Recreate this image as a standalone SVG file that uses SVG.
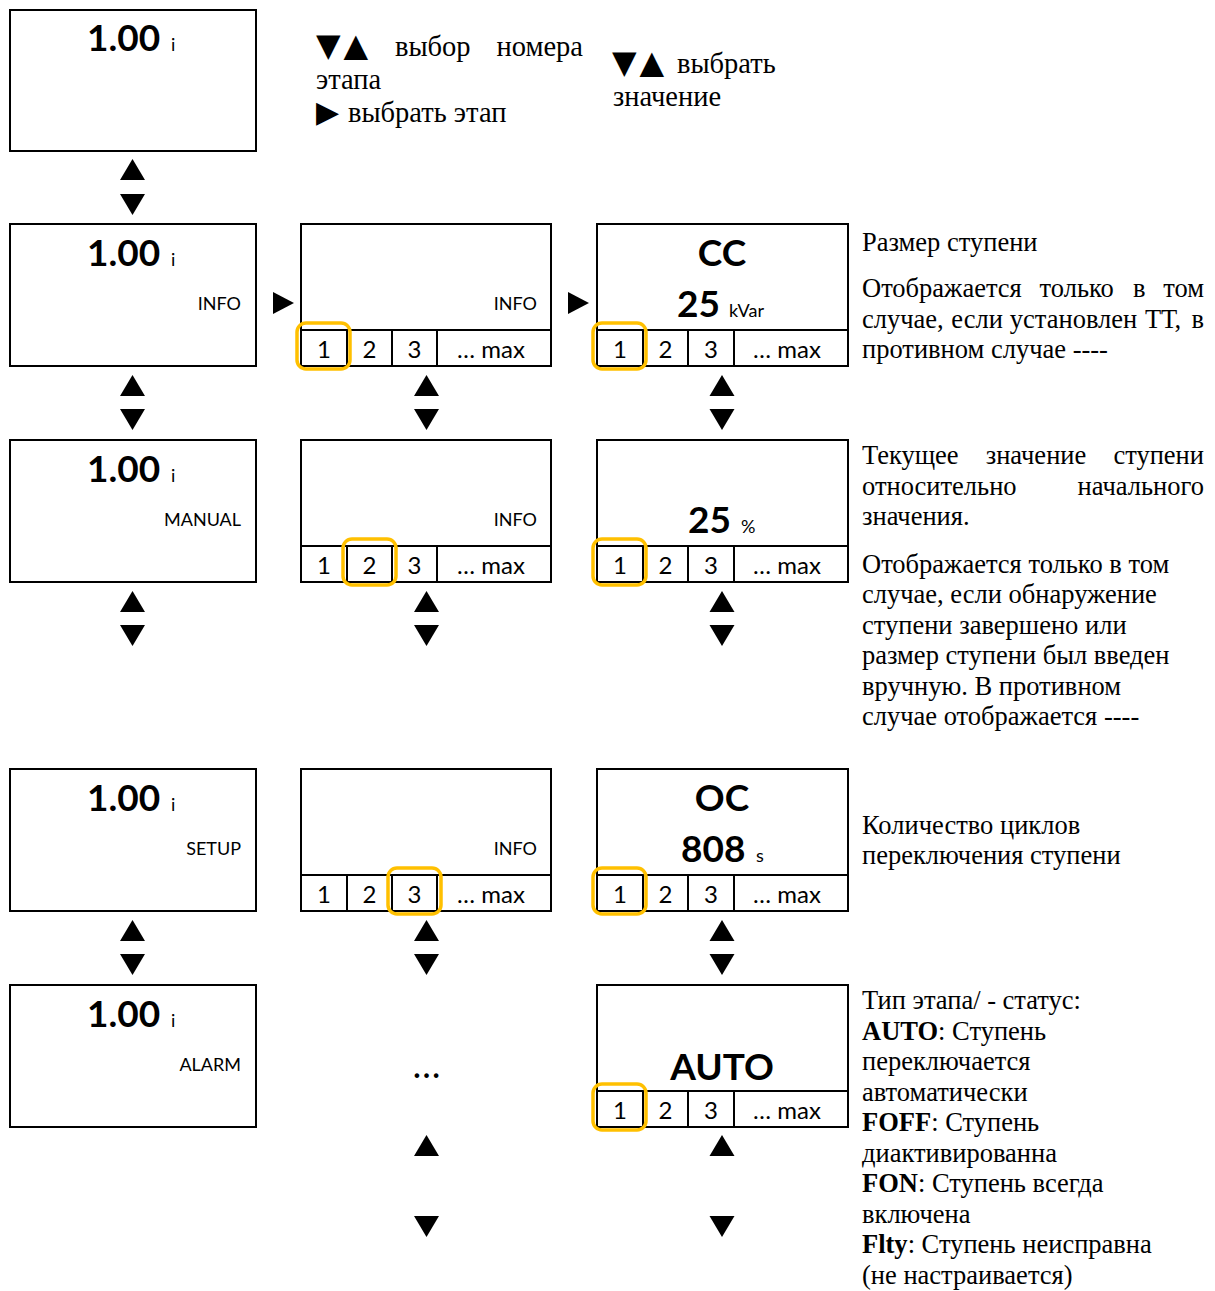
<svg xmlns="http://www.w3.org/2000/svg" xmlns:xlink="http://www.w3.org/1999/xlink" width="1215" height="1291" viewBox="0 0 1215 1291">
<style>
.box{fill:#fff;stroke:#000;stroke-width:2}
.dv{stroke:#000;stroke-width:2;fill:none}
.hl{fill:none;stroke:#FFC000;stroke-width:3.5}
.big{font-family:Lato,"Open Sans",sans-serif;font-weight:700;font-size:37px;fill:#000}
.bigc{font-family:Lato,"Open Sans",sans-serif;font-weight:700;font-size:37px;fill:#000;text-anchor:middle}
.sm{font-family:Lato,"Open Sans",sans-serif;font-size:18px;fill:#000}
.lbl{font-family:Lato,"Open Sans",sans-serif;font-size:18px;fill:#000;text-anchor:end}
.cell{font-family:Lato,"Open Sans",sans-serif;font-size:24px;fill:#000;text-anchor:middle}
.txt{font-family:"Liberation Serif","DejaVu Serif",serif;font-size:26.5px;fill:#000}
.top{font-family:"Liberation Serif","DejaVu Serif",serif;font-size:28.5px;fill:#000}
.tri{font-family:"DejaVu Sans",sans-serif;font-size:32px;letter-spacing:3px}
.b{font-weight:700}
.arr{fill:#000}
</style>
<defs>
<polygon id="up" points="-12.5,21 12.5,21 0,0"/>
<polygon id="dn" points="-12.5,0 12.5,0 0,21"/>
<polygon id="rt" points="0,0 0,22 21,11"/>
</defs>

<g id="legend-top">
<text class="top" y="56"><tspan class="tri" x="316">▼▲</tspan><tspan x="395">выбор</tspan><tspan x="583" text-anchor="end">номера</tspan></text>
<text class="top" x="316" y="89">этапа</text>
<text class="top" y="122"><tspan class="tri" x="316" style="font-size:30px">▶</tspan><tspan x="348">выбрать этап</tspan></text>
<text class="top" y="73"><tspan class="tri" x="612">▼▲</tspan><tspan x="677">выбрать</tspan></text>
<text class="top" x="613" y="106">значение</text>
</g>

<g id="main1">
<rect class="box" x="10" y="10" width="246" height="141"/>
<text class="big" x="87" y="51">1.00</text><text class="sm" x="171" y="51">i</text>
</g>

<g id="main-info">
<rect class="box" x="10" y="224" width="246" height="142"/>
<text class="big" x="87" y="266">1.00</text><text class="sm" x="171" y="266">i</text>
<text class="lbl" x="241" y="310">INFO</text>
</g>

<g id="main-manual">
<rect class="box" x="10" y="440" width="246" height="142"/>
<text class="big" x="87" y="482">1.00</text><text class="sm" x="171" y="482">i</text>
<text class="lbl" x="241" y="526">MANUAL</text>
</g>

<g id="main-setup">
<rect class="box" x="10" y="769" width="246" height="142"/>
<text class="big" x="87" y="811">1.00</text><text class="sm" x="171" y="811">i</text>
<text class="lbl" x="241" y="855">SETUP</text>
</g>

<g id="main-alarm">
<rect class="box" x="10" y="985" width="246" height="142"/>
<text class="big" x="87" y="1027">1.00</text><text class="sm" x="171" y="1027">i</text>
<text class="lbl" x="241" y="1071">ALARM</text>
</g>

<g id="step-sel-1">
<rect class="box" x="301" y="224" width="250" height="142"/>
<path class="dv" d="M301 330H551M347 330V366M392 330V366M437 330V366"/>
<text class="lbl" x="537" y="310">INFO</text>
<text class="cell" y="358"><tspan x="324">1</tspan><tspan x="369.5">2</tspan><tspan x="414.5">3</tspan><tspan x="491">… max</tspan></text>
<rect class="hl" x="297" y="323" width="53" height="46" rx="9"/>
</g>

<g id="step-sel-2">
<rect class="box" x="301" y="440" width="250" height="142"/>
<path class="dv" d="M301 546H551M347 546V582M392 546V582M437 546V582"/>
<text class="lbl" x="537" y="526">INFO</text>
<text class="cell" y="574"><tspan x="324">1</tspan><tspan x="369.5">2</tspan><tspan x="414.5">3</tspan><tspan x="491">… max</tspan></text>
<rect class="hl" x="343" y="539" width="53" height="46" rx="9"/>
</g>

<g id="step-sel-3">
<rect class="box" x="301" y="769" width="250" height="142"/>
<path class="dv" d="M301 875H551M347 875V911M392 875V911M437 875V911"/>
<text class="lbl" x="537" y="855">INFO</text>
<text class="cell" y="903"><tspan x="324">1</tspan><tspan x="369.5">2</tspan><tspan x="414.5">3</tspan><tspan x="491">… max</tspan></text>
<rect class="hl" x="388" y="868" width="53" height="46" rx="9"/>
</g>

<g id="step-sel-more">
<text class="top b" x="426.5" y="1078" text-anchor="middle">…</text>
</g>

<g id="val-cc">
<rect class="box" x="597" y="224" width="251" height="142"/>
<path class="dv" d="M597 330H848M643 330V366M688 330V366M734 330V366"/>
<text class="bigc" x="722" y="266">CC</text>
<text class="big" x="677" y="317">25</text><text class="sm" x="729" y="317">kVar</text>
<text class="cell" y="358"><tspan x="620">1</tspan><tspan x="665.5">2</tspan><tspan x="711">3</tspan><tspan x="787">… max</tspan></text>
<rect class="hl" x="593" y="323" width="53" height="46" rx="9"/>
</g>

<g id="val-pct">
<rect class="box" x="597" y="440" width="251" height="142"/>
<path class="dv" d="M597 546H848M643 546V582M688 546V582M734 546V582"/>
<text class="big" x="688" y="533">25</text><text class="sm" x="741" y="533">%</text>
<text class="cell" y="574"><tspan x="620">1</tspan><tspan x="665.5">2</tspan><tspan x="711">3</tspan><tspan x="787">… max</tspan></text>
<rect class="hl" x="593" y="539" width="53" height="46" rx="9"/>
</g>

<g id="val-oc">
<rect class="box" x="597" y="769" width="251" height="142"/>
<path class="dv" d="M597 875H848M643 875V911M688 875V911M734 875V911"/>
<text class="bigc" x="722" y="811">OC</text>
<text class="big" x="681" y="862">808</text><text class="sm" x="756" y="862">s</text>
<text class="cell" y="903"><tspan x="620">1</tspan><tspan x="665.5">2</tspan><tspan x="711">3</tspan><tspan x="787">… max</tspan></text>
<rect class="hl" x="593" y="868" width="53" height="46" rx="9"/>
</g>

<g id="val-auto">
<rect class="box" x="597" y="985" width="251" height="142"/>
<path class="dv" d="M597 1091H848M643 1091V1127M688 1091V1127M734 1091V1127"/>
<text class="bigc" x="722" y="1080">AUTO</text>
<text class="cell" y="1119"><tspan x="620">1</tspan><tspan x="665.5">2</tspan><tspan x="711">3</tspan><tspan x="787">… max</tspan></text>
<rect class="hl" x="593" y="1084" width="53" height="46" rx="9"/>
</g>

<g id="desc-size">
<text class="txt" x="862" y="251">Размер ступени</text>
<text class="txt" y="297"><tspan x="862">Отображается</tspan><tspan x="1039.6">только</tspan><tspan x="1132.9">в</tspan><tspan x="1204" text-anchor="end">том</tspan></text>
<text class="txt" y="328"><tspan x="862">случае,</tspan><tspan x="951.3">если</tspan><tspan x="1009.8">установлен</tspan><tspan x="1144.9">ТТ,</tspan><tspan x="1204" text-anchor="end">в</tspan></text>
<text class="txt" x="862" y="358">противном случае ----</text>
</g>

<g id="desc-current">
<text class="txt" y="464"><tspan x="862">Текущее</tspan><tspan x="985.7">значение</tspan><tspan x="1204" text-anchor="end">ступени</tspan></text>
<text class="txt" y="495"><tspan x="862">относительно</tspan><tspan x="1204" text-anchor="end">начального</tspan></text>
<text class="txt" x="862" y="525">значения.</text>
<text class="txt" x="862" y="573">Отображается только в том</text>
<text class="txt" x="862" y="603">случае, если обнаружение</text>
<text class="txt" x="862" y="634">ступени завершено или</text>
<text class="txt" x="862" y="664">размер ступени был введен</text>
<text class="txt" x="862" y="695">вручную. В противном</text>
<text class="txt" x="862" y="725">случае отображается ----</text>
</g>

<g id="desc-cycles">
<text class="txt" x="862" y="834">Количество циклов</text>
<text class="txt" x="862" y="864">переключения ступени</text>
</g>

<g id="desc-type">
<text class="txt" x="862" y="1009">Тип этапа/ - статус:</text>
<text class="txt" x="862" y="1040"><tspan class="b">AUTO</tspan>: Ступень</text>
<text class="txt" x="862" y="1070">переключается</text>
<text class="txt" x="862" y="1101">автоматически</text>
<text class="txt" x="862" y="1131"><tspan class="b">FOFF</tspan>: Ступень</text>
<text class="txt" x="862" y="1162">диактивированна</text>
<text class="txt" x="862" y="1192"><tspan class="b">FON</tspan>: Ступень всегда</text>
<text class="txt" x="862" y="1223">включена</text>
<text class="txt" x="862" y="1253"><tspan class="b">Flty</tspan>: Ступень неисправна</text>
<text class="txt" x="862" y="1284">(не настраивается)</text>
</g>

<g id="connectors" class="arr">
<use xlink:href="#up" x="132.5" y="159"/><use xlink:href="#dn" x="132.5" y="194"/>
<use xlink:href="#up" x="132.5" y="375"/><use xlink:href="#dn" x="132.5" y="409"/>
<use xlink:href="#up" x="426.5" y="375"/><use xlink:href="#dn" x="426.5" y="409"/>
<use xlink:href="#up" x="722" y="375"/><use xlink:href="#dn" x="722" y="409"/>
<use xlink:href="#up" x="132.5" y="591"/><use xlink:href="#dn" x="132.5" y="625"/>
<use xlink:href="#up" x="426.5" y="591"/><use xlink:href="#dn" x="426.5" y="625"/>
<use xlink:href="#up" x="722" y="591"/><use xlink:href="#dn" x="722" y="625"/>
<use xlink:href="#up" x="132.5" y="920"/><use xlink:href="#dn" x="132.5" y="954"/>
<use xlink:href="#up" x="426.5" y="920"/><use xlink:href="#dn" x="426.5" y="954"/>
<use xlink:href="#up" x="722" y="920"/><use xlink:href="#dn" x="722" y="954"/>
<use xlink:href="#up" x="426.5" y="1135"/><use xlink:href="#dn" x="426.5" y="1216"/>
<use xlink:href="#up" x="722" y="1135"/><use xlink:href="#dn" x="722" y="1216"/>
<use xlink:href="#rt" x="273" y="292"/>
<use xlink:href="#rt" x="568" y="292"/>
</g>
</svg>
